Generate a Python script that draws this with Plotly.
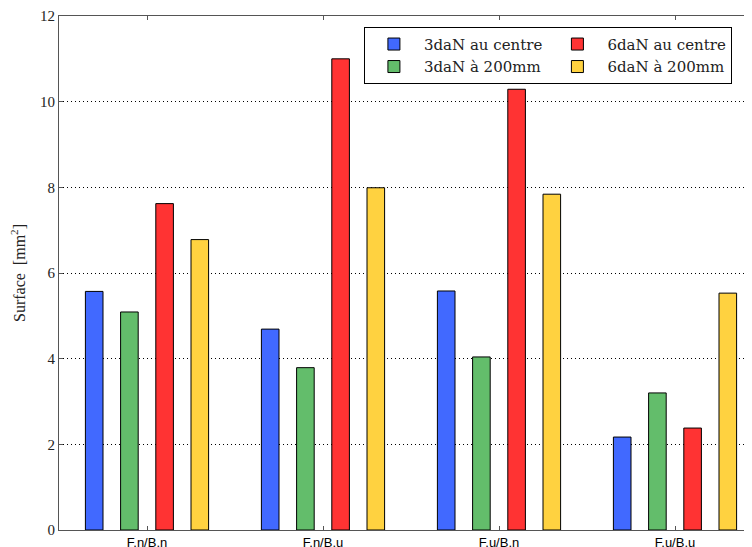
import plotly.graph_objects as go

categories = ["F.n/B.n", "F.n/B.u", "F.u/B.n", "F.u/B.u"]
series_names = ["3daN au centre", "3daN à 200mm", "6daN au centre", "6daN à 200mm"]
s_3dan_centre = [5.57, 4.69, 5.58, 2.17]
s_3dan_200 = [5.09, 3.79, 4.04, 3.20]
s_6dan_centre = [7.62, 11.0, 10.29, 2.38]
s_6dan_200 = [6.78, 7.99, 7.84, 5.53]
colors = ["#4169ff", "#63bd6b", "#ff3333", "#ffd240"]
groups = ["a", "a", "b", "b"]
y_ticks = [0, 2, 4, 6, 8, 10, 12]

serif = "DejaVu Serif"
fig = go.Figure()
for name, vals, col, grp in zip(series_names,
                                [s_3dan_centre, s_3dan_200, s_6dan_centre, s_6dan_200],
                                colors, groups):
    fig.add_trace(go.Bar(x=categories, y=vals, name=name, legendgroup=grp,
                         marker=dict(color=col, line=dict(color="black", width=1))))

# page body adds an 8px margin, compensated here
fig.update_layout(
    width=744, height=539,
    margin=dict(l=51, r=0, t=8, b=17),
    plot_bgcolor="white", paper_bgcolor="white",
    barmode="group", bargap=0.2, bargroupgap=0.5,
    legend=dict(orientation="h", traceorder="grouped", tracegroupgap=131, itemwidth=50,
                x=0.44, xanchor="left", y=0.979, yanchor="top",
                bgcolor="white", bordercolor="black", borderwidth=1,
                font=dict(family=serif, size=15, color="#222")),
    xaxis=dict(range=[-0.5, 3.4375], automargin=False, showgrid=False, showline=True,
               linecolor="#555", mirror="ticks", ticks="inside", ticklen=4, tickcolor="#555",
               tickfont=dict(family="Liberation Sans", size=13, color="black")),
    yaxis=dict(range=[0, 12], tickvals=y_ticks, automargin=False, showgrid=True,
               gridcolor="black", griddash="1px,3px", gridwidth=1, zeroline=False,
               showline=True, linecolor="#555", mirror="ticks", ticks="inside", ticklen=4,
               tickcolor="#555",
               tickfont=dict(family="Liberation Serif", size=15, color="#222"),
               title=dict(text="Surface  [mm<sup>2</sup>]", standoff=16,
                          font=dict(family="Liberation Serif", size=16, color="#222"))),
)
fig.write_html("out.html")
